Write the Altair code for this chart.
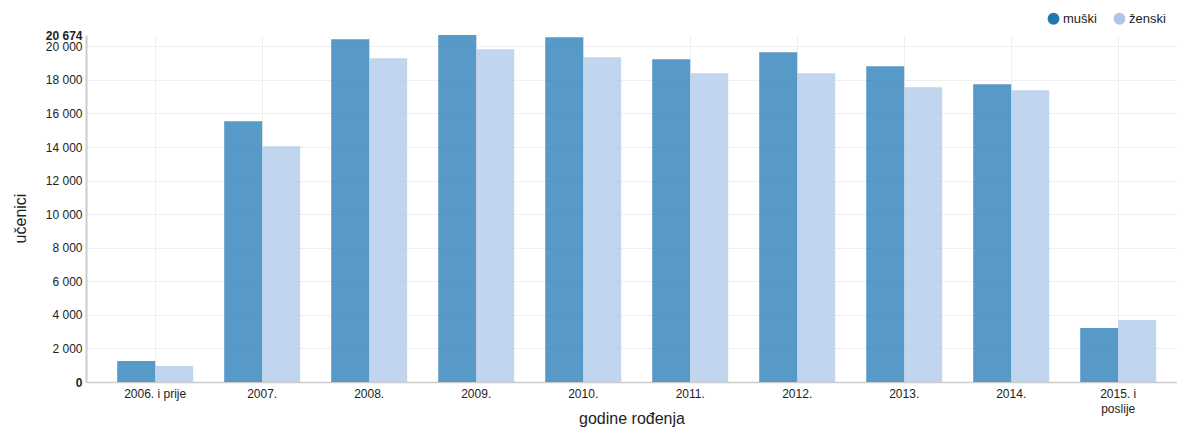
import altair as alt
import pandas as pd

categories = ["2006. i prije", "2007.", "2008.", "2009.", "2010.", "2011.",
              "2012.", "2013.", "2014.", "2015. i poslije"]
muski = [1250, 15540, 20420, 20674, 20540, 19230, 19640, 18810, 17740, 3210]
zenski = [950, 14050, 19290, 19820, 19350, 18390, 18390, 17560, 17380, 3690]
series = ["muški", "ženski"]
colors = ["#1f77b4", "#aec7e8"]
y_max = 20674
y_ticks = [0, 2000, 4000, 6000, 8000, 10000, 12000, 14000, 16000, 18000, 20000, 20674]

rows = []
for i, c in enumerate(categories):
    rows.append({"godina": c, "spol": series[0], "ucenici": muski[i]})
    rows.append({"godina": c, "spol": series[1], "ucenici": zenski[i]})
df = pd.DataFrame(rows)

FONT = "Liberation Sans"

chart = alt.Chart(df).mark_bar(opacity=0.75).encode(
    x=alt.X(
        "godina:N", sort=categories, title="godine rođenja",
        scale=alt.Scale(paddingInner=0.29, paddingOuter=0.243, align=0.6),
        axis=alt.Axis(
            labelAngle=0, ticks=False, bandPosition=0.5, grid=True,
            gridColor="#efefef", domainColor="#cccccc", domainWidth=1.5,
            labelPadding=6, labelFontSize=12, labelColor="#222222",
            labelLineHeight=15, labelBaseline="top",
            labelExpr="datum.label == '2015. i poslije' ? ['2015. i', 'poslije'] : datum.label",
            titleFontSize=16, titleFontWeight="normal", titleColor="#222222",
            titleY=41, titleBaseline="alphabetic",
        ),
    ),
    xOffset=alt.XOffset("spol:N", sort=series,
                        scale=alt.Scale(paddingInner=0, paddingOuter=0)),
    y=alt.Y(
        "ucenici:Q", title="učenici",
        scale=alt.Scale(domain=[0, y_max], nice=False, zero=True),
        axis=alt.Axis(
            values=y_ticks, ticks=False, grid=True, gridColor="#efefef",
            gridOpacity={"condition": {"test": "datum.value == 20674", "value": 0}, "value": 1},
            domainColor="#cccccc", domainWidth=2,
            labelExpr="replace(format(datum.value, ','), ',', ' ')",
            labelFontWeight={"condition": {"test": "datum.value == 0 || datum.value == 20674",
                                           "value": "bold"}, "value": "normal"},
            labelOverlap=False, labelFlush=False, labelPadding=4,
            labelFontSize=12, labelColor="#222222",
            titleFontSize=16, titleFontWeight="normal", titleColor="#222222",
            titleX=-58, titleY=183, titleAlign="center", titleBaseline="bottom",
        ),
    ),
    color=alt.Color(
        "spol:N", scale=alt.Scale(domain=series, range=colors),
        legend=alt.Legend(
            title=None, orient="none", legendX=961, legendY=-23,
            direction="horizontal", symbolType="circle", symbolSize=140,
            symbolOpacity=1, symbolStrokeWidth=0, labelFontSize=13,
            labelColor="#222222", labelOffset=3, columnPadding=16, padding=0,
        ),
    ),
).properties(
    width=1091, height=347,
    autosize=alt.AutoSizeParams(type="none"),
    padding={"left": 78, "top": 27, "right": 0, "bottom": 45},
).configure(font=FONT).configure_view(stroke=None)

chart.save("out.html", embed_options={"renderer": "svg", "actions": False})
